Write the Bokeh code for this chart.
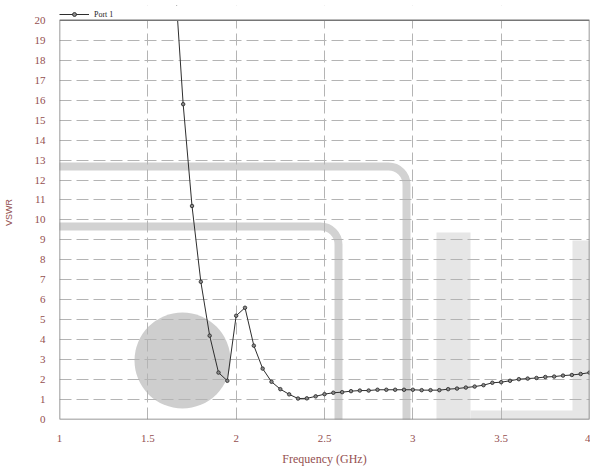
from bokeh.plotting import figure
from bokeh.models import (FixedTicker, Legend, LegendItem, BoxAnnotation, ColumnDataSource)
from bokeh.embed import file_html
from bokeh.resources import INLINE

# ---- data ----
freq_ghz = [1.65, 1.70, 1.75, 1.80, 1.85, 1.90, 1.95, 2.00, 2.05, 2.10,
            2.15, 2.20, 2.25, 2.30, 2.35, 2.40, 2.45, 2.50, 2.55, 2.60,
            2.65, 2.70, 2.75, 2.80, 2.85, 2.90, 2.95, 3.00, 3.05, 3.10,
            3.15, 3.20, 3.25, 3.30, 3.35, 3.40, 3.45, 3.50, 3.55, 3.60,
            3.65, 3.70, 3.75, 3.80, 3.85, 3.90, 3.95, 4.00]
vswr = [22.5, 15.8, 10.7, 6.9, 4.2, 2.35, 1.94, 5.2, 5.6, 3.7,
        2.55, 1.89, 1.52, 1.26, 1.05, 1.06, 1.16, 1.27, 1.34, 1.37,
        1.42, 1.45, 1.45, 1.49, 1.49, 1.49, 1.49, 1.49, 1.47, 1.47,
        1.47, 1.52, 1.55, 1.60, 1.65, 1.72, 1.84, 1.87, 1.94, 2.02,
        2.05, 2.08, 2.13, 2.15, 2.20, 2.23, 2.28, 2.35]
series_name = "Port 1"
x_ticks = [1, 1.5, 2, 2.5, 3, 3.5, 4]
x_tick_labels = ["1", "1.5", "2", "2.5", "3", "3.5", "4"]
y_ticks = list(range(0, 21))
x_min, x_max = 1, 4
y_min, y_max = 0, 20
x_label = "Frequency (GHz)"
y_label = "VSWR"

label_color = "#944f4f"
serif = "Liberation Serif"

# The frame extends 15 px above the y=20 line to hold the legend strip;
# that strip is masked white and the real chart box is drawn at 0..20.
H, TOP_PAD, BOTTOM = 468, 5, 45
plot_px = H - TOP_PAD - BOTTOM            # 418
box_px = plot_px - 15                     # 403 px for 0..20
y_top = y_min + (y_max - y_min) * plot_px / box_px

p = figure(width=590, height=H, x_range=(x_min, x_max), y_range=(y_min, y_top),
           output_backend="svg", toolbar_location=None,
           min_border_left=55, min_border_right=1, min_border_top=TOP_PAD,
           min_border_bottom=BOTTOM)
p.background_fill_color = "white"
p.border_fill_color = "white"
p.outline_line_color = None

# ---- faint watermark (background decoration, canvas units) ----
wm = "#d2d2d2"
def box(l, r, t, b, **kw):
    bx = BoxAnnotation(left=l, right=r, top=t, bottom=b,
                       left_units="canvas", right_units="canvas",
                       top_units="canvas", bottom_units="canvas",
                       level="image", **kw)
    p.add_layout(bx)
box(18, 406, 166, 470, fill_alpha=0, line_color=wm, line_alpha=1, line_width=8, border_radius=18)
box(18, 338, 226, 470, fill_alpha=0, line_color=wm, line_alpha=1, line_width=8, border_radius=18)
box(134, 230, 312, 408, fill_color="#cecece", fill_alpha=1, line_color=None, border_radius=48)
box(436, 470, 232, 470, fill_color="#e6e6e6", fill_alpha=1, line_color=None)
box(572, 592, 240, 423, fill_color="#e6e6e6", fill_alpha=1, line_color=None)
box(470, 592, 410, 423, fill_color="#e6e6e6", fill_alpha=1, line_color=None)

# ---- data marks ----
src = ColumnDataSource(dict(f=freq_ghz, v=vswr))
ln = p.line("f", "v", source=src, line_color="#2e2e2e", line_width=1)
sc = p.scatter("f", "v", source=src, marker="circle", size=3.5,
               fill_color="#8a8a8a", line_color="#222222", line_width=0.8)

# ---- mask above the chart box, and chart box border ----
p.add_layout(BoxAnnotation(bottom=y_max, fill_color="white", fill_alpha=1,
                           line_color=None))
p.add_layout(BoxAnnotation(left=x_min, right=x_max, bottom=y_min, top=y_max,
                           fill_alpha=0, line_color="#767676", line_alpha=1,
                           line_width=1.5))

# ---- axes ----
p.xaxis.ticker = FixedTicker(ticks=x_ticks)
p.xaxis.major_label_overrides = {t: s for t, s in zip(x_ticks, x_tick_labels)}
p.yaxis.ticker = FixedTicker(ticks=y_ticks)
p.xgrid.ticker = FixedTicker(ticks=x_ticks)
p.ygrid.ticker = FixedTicker(ticks=y_ticks)

for ax in (p.xaxis, p.yaxis):
    ax.axis_line_color = None
    ax.major_tick_line_color = None
    ax.minor_tick_line_color = None
    ax.major_label_text_font = serif
    ax.major_label_text_font_size = "11px"
    ax.major_label_text_color = label_color
    ax.axis_label_text_color = label_color
    ax.axis_label_text_font_style = "normal"

p.xaxis.axis_label = x_label
p.xaxis.axis_label_text_font = serif
p.xaxis.axis_label_text_font_size = "12px"
p.xaxis.major_label_standoff = 9
p.xaxis.axis_label_standoff = 7

p.yaxis.axis_label = y_label
p.yaxis.axis_label_text_font = "Liberation Sans"
p.yaxis.axis_label_text_font_size = "9px"
p.yaxis.major_label_standoff = 8
p.yaxis.axis_label_standoff = 18

for g in (p.xgrid, p.ygrid):
    g.grid_line_color = "#b4b4b4"
    g.grid_line_dash = "12 5"
    g.grid_line_width = 1

# ---- legend in the strip above the chart box ----
leg = Legend(items=[LegendItem(label=series_name, renderers=[ln, sc])],
             location=(0, box_px - 3), orientation="horizontal",
             padding=0, margin=0, spacing=0,
             glyph_width=30, glyph_height=10, label_height=10,
             label_standoff=5,
             label_text_font=serif, label_text_font_size="8px",
             label_text_color="#222222",
             background_fill_alpha=0, border_line_color=None)
p.add_layout(leg)

open("out.html", "w").write(file_html(p, INLINE))
